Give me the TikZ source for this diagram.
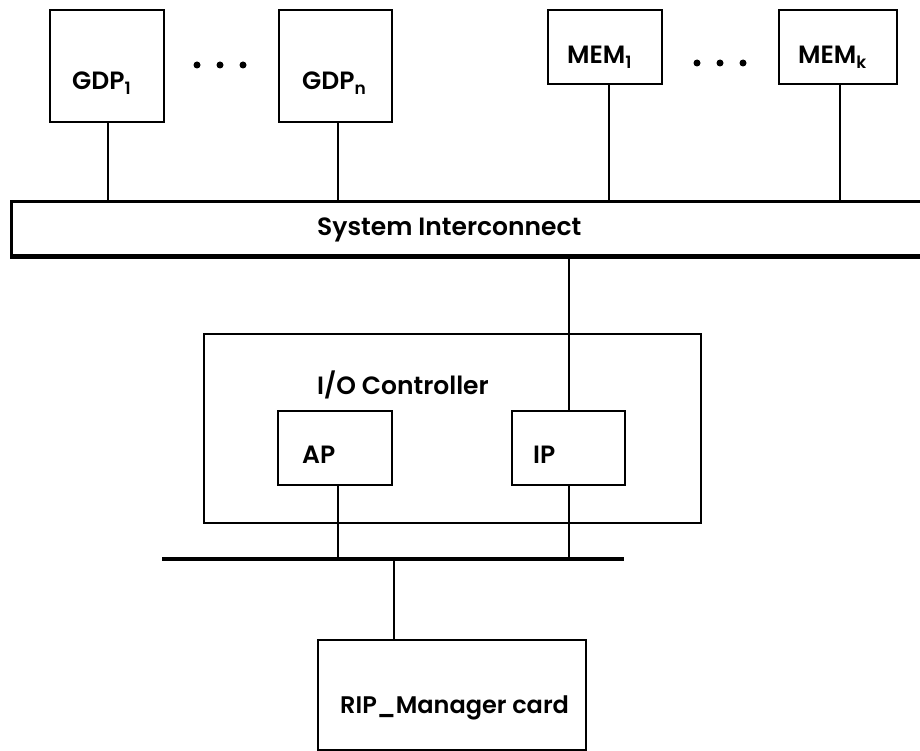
\documentclass[tikz,border=0pt]{standalone}
\usepackage{fontspec}
\setmainfont{Poppins SemiBold}
\newcommand\mysub[1]{\raisebox{-5pt}{\fontsize{17}{17}\selectfont #1}}
\begin{document}
\begin{tikzpicture}[x=1pt,y=-1pt,
  box/.style={draw,line width=2.4pt,rectangle,inner sep=0pt,anchor=north west},
  lbl/.style={anchor=base west,inner sep=0pt,font=\fontsize{25}{29}\selectfont},
  wire/.style={line width=1.9pt},
  dotmark/.style={circle,fill,inner sep=0pt,minimum size=7pt}]
\useasboundingbox (0,0) rectangle (920,751);
\clip (0,0) rectangle (920,751);
\fill[white] (0,0) rectangle (920,751);

% boxes
\node[box,minimum width=114pt,minimum height=112pt] (gdp1) at (49,9) {};
\node[box,minimum width=113pt,minimum height=112pt] (gdpn) at (278,9) {};
\node[box,minimum width=114pt,minimum height=74pt] (mem1) at (547,9) {};
\node[box,minimum width=118pt,minimum height=74pt] (memk) at (778,9) {};
\node[box,line width=2.8pt,minimum width=930pt,minimum height=54pt] (bar) at (10,200) {};
\draw[line width=4pt] (bar.south west) -- (bar.south east);
\node[box,minimum width=497pt,minimum height=189pt] (io) at (203,333) {};
\node[box,minimum width=114pt,minimum height=74pt] (ap) at (277,410) {};
\node[box,minimum width=113pt,minimum height=74pt] (ip) at (511,410) {};
\node[rectangle,fill=black,inner sep=0pt,anchor=west,minimum width=462pt,minimum height=4.5pt] (bus) at (162,559) {};
\node[box,minimum width=268pt,minimum height=110pt] (rip) at (317,639) {};

% dots
\node[dotmark] (d1) at (197,65) {};
\node[dotmark] (d2) at (220,65) {};
\node[dotmark] (d3) at (243,65) {};
\node[dotmark] (d4) at (697,63) {};
\node[dotmark] (d5) at (720,63) {};
\node[dotmark] (d6) at (743,63) {};

% labels
\node[lbl] (tg1) at (72,90) {GDP\mysub{1}};
\node[lbl] (tgn) at (302,90) {GDP\mysub{n}};
\node[lbl] (tm1) at (567,64) {MEM\mysub{1}};
\node[lbl] (tmk) at (798,64) {MEM\mysub{k}};
\node[lbl] (tsys) at (317,236) {System Interconnect};
\node[lbl] (tio) at (317,394) {I/O Controller};
\node[lbl] (tap) at (302,463) {AP};
\node[lbl] (tip) at (533,463) {IP};
\node[lbl,font=\fontsize{24}{28}\selectfont] (trip) at (340,713) {RIP\_Manager card};

% connectors
\draw[wire] ([xshift=1pt]gdp1.south) -- ([xshift=1pt]gdp1.south |- bar.north);
\draw[wire] ([xshift=2pt]gdpn.south) -- ([xshift=2pt]gdpn.south |- bar.north);
\draw[wire] ([xshift=4pt]mem1.south) -- ([xshift=4pt]mem1.south |- bar.north);
\draw[wire] ([xshift=2pt]memk.south) -- ([xshift=2pt]memk.south |- bar.north);
\draw[wire] (ip.north |- bar.south) -- (ip.north);
\draw[wire] ([xshift=3pt]ap.south) -- ([xshift=3pt]ap.south |- bus.center);
\draw[wire] (ip.south) -- (ip.south |- bus.center);
\draw[wire] ([xshift=-58pt]rip.north) -- ([xshift=-58pt]rip.north |- bus.center);
\end{tikzpicture}
\end{document}
